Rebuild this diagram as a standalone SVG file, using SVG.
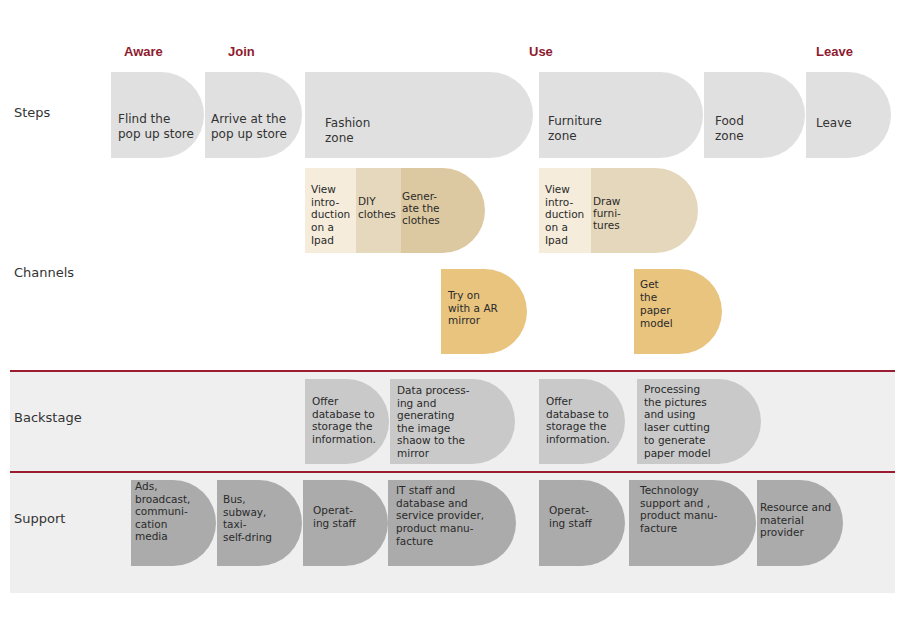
<svg xmlns="http://www.w3.org/2000/svg" width="900" height="630" viewBox="0 0 900 630">
<style>
.hdr{font-family:"Liberation Sans",Arial,sans-serif;font-weight:bold;font-size:13px;fill:#8E1B2F}
.row{font-family:"DejaVu Sans",sans-serif;font-size:13px;fill:#333}
.t12{font-family:"DejaVu Sans",sans-serif;font-size:12px;fill:#333}
.t{font-family:"DejaVu Sans",sans-serif;font-size:10.5px;fill:#2a2a2a}
.step{fill:#E0E0E0}
.back{fill:#C9C9C9}
.sup{fill:#ABABAB}
.band{fill:#EFEFEF}
.redline{stroke:#9B1B30;stroke-width:2}
</style>
<rect width="900" height="630" fill="#FFFFFF"/>

<!-- bands -->
<g id="bands">
  <rect class="band" x="10" y="371" width="885" height="101"/>
  <rect class="band" x="10" y="473" width="885" height="120"/>
  <line class="redline" x1="10" y1="371" x2="895" y2="371"/>
  <line class="redline" x1="10" y1="472" x2="895" y2="472"/>
</g>

<!-- headers -->
<g id="headers">
  <text class="hdr" x="124" y="56">Aware</text>
  <text class="hdr" x="228" y="56">Join</text>
  <text class="hdr" x="529" y="56">Use</text>
  <text class="hdr" x="816" y="56">Leave</text>
</g>

<!-- row labels -->
<g id="rowlabels">
  <text class="row" x="14" y="117">Steps</text>
  <text class="row" x="14" y="277">Channels</text>
  <text class="row" x="14" y="422">Backstage</text>
  <text class="row" x="14" y="523">Support</text>
</g>

<!-- Steps -->
<g id="step-find">
  <path class="step" d="M111,72 H161 A43,43 0 0 1 161,158 H111 Z"/>
  <text class="t12" x="118" y="123"><tspan x="118">Flind the</tspan><tspan x="118" dy="15">pop up store</tspan></text>
</g>
<g id="step-arrive">
  <path class="step" d="M205,72 H259 A43,43 0 0 1 259,158 H205 Z"/>
  <text class="t12" x="211" y="123"><tspan x="211">Arrive at the</tspan><tspan x="211" dy="15">pop up store</tspan></text>
</g>
<g id="step-fashion">
  <path class="step" d="M305,72 H490 A43,43 0 0 1 490,158 H305 Z"/>
  <text class="t12" x="325" y="127"><tspan x="325">Fashion</tspan><tspan x="325" dy="15">zone</tspan></text>
</g>
<g id="step-furniture">
  <path class="step" d="M539,72 H660 A43,43 0 0 1 660,158 H539 Z"/>
  <text class="t12" x="548" y="125"><tspan x="548">Furniture</tspan><tspan x="548" dy="15">zone</tspan></text>
</g>
<g id="step-food">
  <path class="step" d="M704,72 H762 A43,43 0 0 1 762,158 H704 Z"/>
  <text class="t12" x="715" y="125"><tspan x="715">Food</tspan><tspan x="715" dy="15">zone</tspan></text>
</g>
<g id="step-leave">
  <path class="step" d="M806,72 H848 A43,43 0 0 1 848,158 H806 Z"/>
  <text class="t12" x="816" y="127">Leave</text>
</g>

<!-- Channels -->
<g id="ch-fashion">
  <path fill="#DDC9A1" d="M401,168 H442.5 A42.5,42.5 0 0 1 442.5,253 H401 Z"/>
  <rect fill="#E6D8BC" x="356" y="168" width="45" height="85"/>
  <rect fill="#F5ECDB" x="305" y="168" width="51" height="85"/>
  <text class="t" x="311" y="193"><tspan x="311">View</tspan><tspan x="311" dy="12.7">intro-</tspan><tspan x="311" dy="12.7">duction</tspan><tspan x="311" dy="12.7">on a</tspan><tspan x="311" dy="12.7">Ipad</tspan></text>
  <text class="t" x="358" y="205"><tspan x="358">DIY</tspan><tspan x="358" dy="12.7">clothes</tspan></text>
  <text class="t" x="402" y="200"><tspan x="402">Gener-</tspan><tspan x="402" dy="12.2">ate the</tspan><tspan x="402" dy="12.2">clothes</tspan></text>
</g>
<g id="ch-furniture">
  <path fill="#E5D7BB" d="M591,168 H655.5 A42.5,42.5 0 0 1 655.5,253 H591 Z"/>
  <rect fill="#F5ECDB" x="539" y="168" width="52" height="85"/>
  <text class="t" x="545" y="193"><tspan x="545">View</tspan><tspan x="545" dy="12.7">intro-</tspan><tspan x="545" dy="12.7">duction</tspan><tspan x="545" dy="12.7">on a</tspan><tspan x="545" dy="12.7">Ipad</tspan></text>
  <text class="t" x="593" y="205"><tspan x="593">Draw</tspan><tspan x="593" dy="12.2">furni-</tspan><tspan x="593" dy="12.2">tures</tspan></text>
</g>
<g id="ch-armirror">
  <path fill="#E8C47F" d="M441,269 H484.5 A42.5,42.5 0 0 1 484.5,354 H441 Z"/>
  <text class="t" x="448" y="299"><tspan x="448">Try on</tspan><tspan x="448" dy="12.5">with a AR</tspan><tspan x="448" dy="12.5">mirror</tspan></text>
</g>
<g id="ch-papermodel">
  <path fill="#E8C47F" d="M634,269 H679.5 A42.5,42.5 0 0 1 679.5,354 H634 Z"/>
  <text class="t" x="640" y="288"><tspan x="640">Get</tspan><tspan x="640" dy="13">the</tspan><tspan x="640" dy="13">paper</tspan><tspan x="640" dy="13">model</tspan></text>
</g>

<!-- Backstage -->
<g id="bs-db1">
  <path class="back" d="M305,379 H346.5 A42.5,42.5 0 0 1 346.5,464 H305 Z"/>
  <text class="t" x="312" y="405"><tspan x="312">Offer</tspan><tspan x="312" dy="12.7">database to</tspan><tspan x="312" dy="12.7">storage the</tspan><tspan x="312" dy="12.7">information.</tspan></text>
</g>
<g id="bs-dataproc">
  <path class="back" d="M390,379 H472.5 A42.5,42.5 0 0 1 472.5,464 H390 Z"/>
  <text class="t" x="397" y="394"><tspan x="397">Data process-</tspan><tspan x="397" dy="12.5">ing and</tspan><tspan x="397" dy="12.5">generating</tspan><tspan x="397" dy="12.5">the image</tspan><tspan x="397" dy="12.5">shaow to the</tspan><tspan x="397" dy="12.5">mirror</tspan></text>
</g>
<g id="bs-db2">
  <path class="back" d="M539,379 H582.5 A42.5,42.5 0 0 1 582.5,464 H539 Z"/>
  <text class="t" x="546" y="405"><tspan x="546">Offer</tspan><tspan x="546" dy="12.7">database to</tspan><tspan x="546" dy="12.7">storage the</tspan><tspan x="546" dy="12.7">information.</tspan></text>
</g>
<g id="bs-lasercut">
  <path class="back" d="M637,379 H718.5 A42.5,42.5 0 0 1 718.5,464 H637 Z"/>
  <text class="t" x="644" y="393"><tspan x="644">Processing</tspan><tspan x="644" dy="12.7">the pictures</tspan><tspan x="644" dy="12.7">and using</tspan><tspan x="644" dy="12.7">laser cutting</tspan><tspan x="644" dy="12.7">to generate</tspan><tspan x="644" dy="12.7">paper model</tspan></text>
</g>

<!-- Support -->
<g id="sp-ads">
  <path class="sup" d="M131,480 H173 A43,43 0 0 1 173,566 H131 Z"/>
  <text class="t" x="135" y="490"><tspan x="135">Ads,</tspan><tspan x="135" dy="12.5">broadcast,</tspan><tspan x="135" dy="12.5">communi-</tspan><tspan x="135" dy="12.5">cation</tspan><tspan x="135" dy="12.5">media</tspan></text>
</g>
<g id="sp-transport">
  <path class="sup" d="M217,480 H259 A43,43 0 0 1 259,566 H217 Z"/>
  <text class="t" x="223" y="503"><tspan x="223">Bus,</tspan><tspan x="223" dy="12.5">subway,</tspan><tspan x="223" dy="12.5">taxi-</tspan><tspan x="223" dy="12.5">self-dring</tspan></text>
</g>
<g id="sp-staff1">
  <path class="sup" d="M303,480 H345 A43,43 0 0 1 345,566 H303 Z"/>
  <text class="t" x="313" y="514"><tspan x="313">Operat-</tspan><tspan x="313" dy="12.5">ing staff</tspan></text>
</g>
<g id="sp-it">
  <path class="sup" d="M388,480 H473 A43,43 0 0 1 473,566 H388 Z"/>
  <text class="t" x="396" y="494"><tspan x="396">IT staff and</tspan><tspan x="396" dy="12.7">database and</tspan><tspan x="396" dy="12.7">service provider,</tspan><tspan x="396" dy="12.7">product manu-</tspan><tspan x="396" dy="12.7">facture</tspan></text>
</g>
<g id="sp-staff2">
  <path class="sup" d="M539,480 H582 A43,43 0 0 1 582,566 H539 Z"/>
  <text class="t" x="549" y="514"><tspan x="549">Operat-</tspan><tspan x="549" dy="12.5">ing staff</tspan></text>
</g>
<g id="sp-tech">
  <path class="sup" d="M629,480 H713 A43,43 0 0 1 713,566 H629 Z"/>
  <text class="t" x="640" y="494"><tspan x="640">Technology</tspan><tspan x="640" dy="12.7">support and ,</tspan><tspan x="640" dy="12.7">product manu-</tspan><tspan x="640" dy="12.7">facture</tspan></text>
</g>
<g id="sp-resource">
  <path class="sup" d="M757,480 H800 A43,43 0 0 1 800,566 H757 Z"/>
  <text class="t" x="760" y="511"><tspan x="760">Resource and</tspan><tspan x="760" dy="12.7">material</tspan><tspan x="760" dy="12.7">provider</tspan></text>
</g>

<g id="connectors"></g>
</svg>
